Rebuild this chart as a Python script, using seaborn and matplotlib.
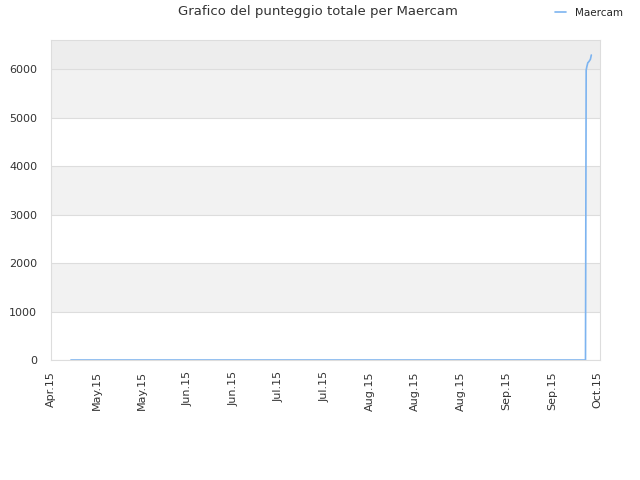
import matplotlib
matplotlib.use('Agg')
import matplotlib.pyplot as plt
import matplotlib.dates as mdates
import seaborn as sns
import pandas as pd

# data
player = 'Maercam'
times = ['2015-05-01 03:00', '2015-10-06 07:00', '2015-10-06 12:00',
         '2015-10-06 17:00', '2015-10-07 00:00', '2015-10-07 07:00',
         '2015-10-07 19:00', '2015-10-08 02:00']
scores = [0, 0, 5980, 6050, 6130, 6150, 6200, 6290]
tick_dates = pd.date_range('2015-04-25', periods=13, freq='14D')

df = pd.DataFrame({'data': pd.to_datetime(times), 'punteggio': scores,
                   'giocatore': player})

sns.set_style('white')
plt.rcParams['font.family'] = ['DejaVu Sans']

fig = plt.figure(figsize=(6.4, 4.8), dpi=100)
ax = fig.add_axes([0.0797, 0.25, 0.8578, 0.6667])

# alternating bands
bands = [(1000, 2000, '#f2f2f2'), (3000, 4000, '#f2f2f2'),
         (5000, 6000, '#f2f2f2'), (6000, 6600, '#ededed')]
for lo, hi, c in bands:
    ax.axhspan(lo, hi, color=c, zorder=0, lw=0)

sns.lineplot(data=df, x='data', y='punteggio', hue='giocatore',
             palette=['#7db4f0'], linewidth=1.2, ax=ax, legend=False)

ax.set_ylim(0, 6600)
ax.set_xlim(tick_dates[0], tick_dates[-1] + pd.Timedelta(hours=18))
ax.set_yticks(range(0, 7000, 1000))
ax.set_xticks(tick_dates)
ax.xaxis.set_major_formatter(mdates.DateFormatter('%b.%y'))
ax.tick_params(axis='x', rotation=90, labelsize=8, colors='#333333', length=0, pad=8)
ax.tick_params(axis='y', labelsize=8, colors='#333333', length=0, pad=10)
ax.yaxis.grid(True, color='#dddddd', lw=0.8)
ax.set_axisbelow(True)
for s in ax.spines.values():
    s.set_color('#dddddd')
ax.set_xlabel('')
ax.set_ylabel('')

fig.text(0.497, 0.975, 'Grafico del punteggio totale per Maercam', ha='center',
         va='center', fontsize=9.5, color='#333333')
fig.legend(handles=[plt.Line2D([], [], color='#7db4f0', lw=1.2)], labels=[player],
           loc='center right', bbox_to_anchor=(623 / 640, 1 - 13 / 480),
           frameon=False, borderpad=0, borderaxespad=0,
           fontsize=7.5, handlelength=1.05, handletextpad=0.85)

fig.savefig('out.png', dpi=100)
